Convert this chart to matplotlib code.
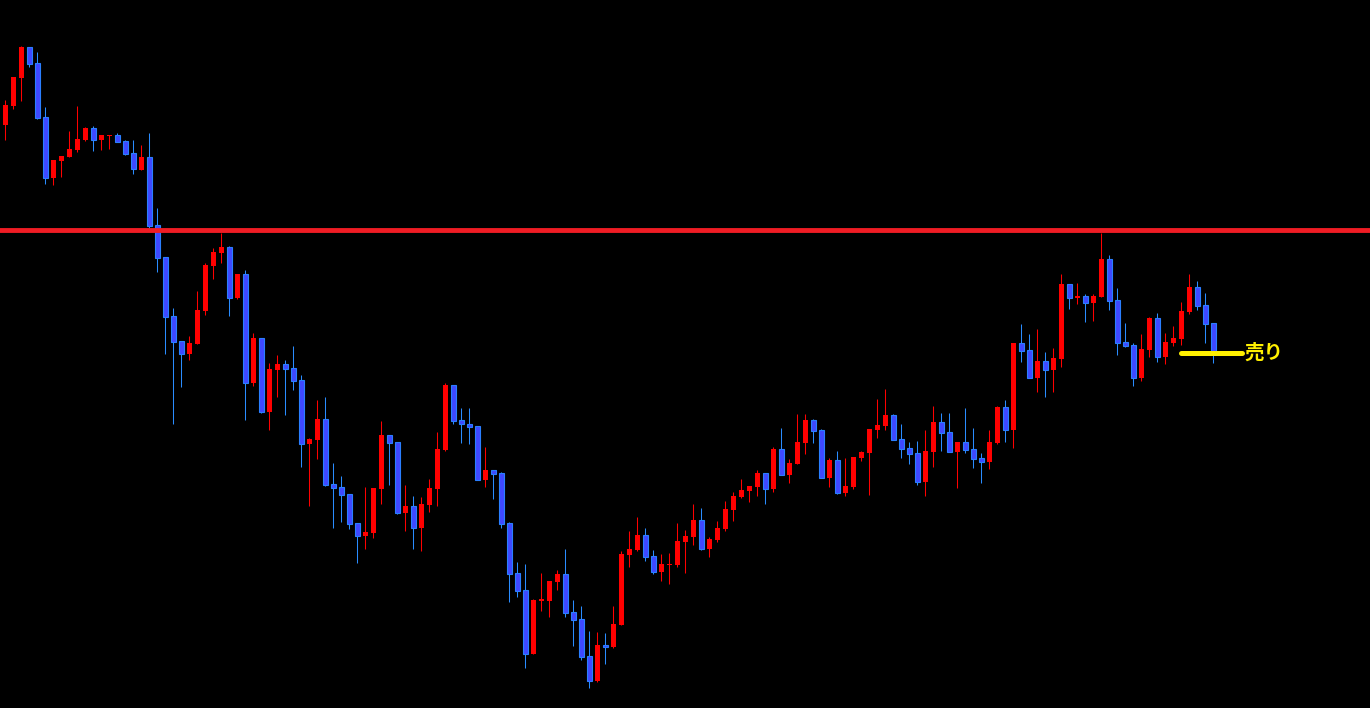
import numpy as np
import matplotlib
matplotlib.use("Agg")
import matplotlib.pyplot as plt

# OHLC (arbitrary price scale)
opens = [583, 602, 630.3, 661, 645, 591, 530.3, 547, 551, 558, 568, 580, 568, 572, 573, 567, 555, 538.3, 551, 483,
         451, 392, 367, 354.3, 364.3, 397, 442, 455, 461, 410, 434, 325, 370, 296, 338, 344, 340, 328, 264.3, 268.3,
         289, 224, 221, 214, 185, 172.3, 175, 219, 273, 266, 195, 202, 180.3, 203, 219, 258, 323, 288, 284, 282,
         228.3, 238, 235, 185, 135, 118, 54.3, 107.5, 107.3, 126.3, 134, 96, 89, 52, 27.3, 63, 61.3, 83, 153, 158,
         173, 152, 136.3, 143.3, 143.3, 166.3, 171.3, 188, 159.3, 168.3, 179.3, 198.3, 211.3, 217.3, 221.3, 235, 219.3, 259, 233.3, 244.3,
         265.3, 288, 278, 230.3, 248, 215.3, 221.3, 250.3, 255.3, 278.3, 282.3, 293, 269, 260, 255, 226.3, 256.3, 286, 276, 256.3,
         266, 259, 250, 246.3, 265.3, 301, 278.3, 365, 358, 330.3, 347, 338.3, 349.3, 424, 410.5, 412, 405.3, 411.3, 449, 408,
         366, 363, 330.3, 358.3, 390, 351.3, 365.3, 369.3, 396.3, 421, 403, 385]
highs = [608, 631, 662, 661, 656, 601, 548, 552, 577, 602.3, 581, 582, 573, 573, 575, 568, 568, 563, 575, 500,
         451, 400, 367, 372, 417, 445, 460, 475, 462, 434, 438, 375, 370, 345, 353, 348, 362, 333, 270, 308,
         311, 245, 232, 214, 185, 221, 220, 287, 273, 266, 223, 212, 211, 229, 276, 325, 323, 300, 300, 282,
         261, 238, 236, 186, 146, 144, 109, 135, 127, 138, 159, 108, 102, 77, 76, 75, 102, 157, 177, 191,
         180, 158, 154, 155, 185, 178, 204, 200, 171, 187, 207, 216, 229, 222, 238, 235, 261, 280, 249, 294.3,
         294.3, 289, 279, 250, 257, 250, 251, 257, 279, 309, 319, 294, 284, 266, 267, 278, 302, 295, 295, 266,
         300, 280, 255, 278, 302, 308, 365, 384, 374, 379, 356, 360, 434, 424, 425, 414, 414, 475, 453, 420,
         385, 365, 374, 391, 395, 375, 382, 406, 434, 427, 415, 385]
lows = [568, 599, 607, 641.3, 589, 524, 523, 531.3, 551, 556, 567, 557, 558, 559, 566, 553, 534, 538, 480, 436,
        354, 284, 321, 348, 364.3, 393, 429, 445, 392, 409, 288, 322.3, 295, 278, 311, 293, 318, 241, 202, 249,
        222, 180, 186, 179.3, 145.3, 159, 170.3, 204, 223, 194, 177, 159, 157, 196, 202, 257, 284.3, 265.3, 264.3, 228.3,
        221.3, 209.3, 180.3, 106.3, 111.3, 40.3, 54.3, 97.3, 91.3, 118.3, 91.3, 62.3, 48.3, 20.3, 26.3, 44.3, 60.3, 83, 141, 157,
        147, 134.3, 127, 124.3, 141.3, 135.3, 163, 158.3, 151.3, 166.3, 177.3, 187.3, 210.3, 206.3, 212.3, 204.3, 216.3, 233.3, 225.3, 244.3,
        254.3, 265.3, 230.3, 221.3, 214.3, 212.3, 219.3, 247.3, 213.3, 270.3, 278.3, 268.3, 250.3, 244.3, 223.3, 212.3, 241.3, 257.3, 256.3, 220.3,
        255.3, 240.3, 225.3, 239.3, 264.3, 266.3, 260.3, 346.3, 330.3, 316.3, 311.3, 316.3, 341.3, 399.3, 404.3, 386.3, 387.3, 411.3, 398.3, 353.3,
        361.3, 322.3, 327.3, 351.3, 346.3, 344.3, 362.3, 363.3, 394.3, 398.3, 365.3, 345.3]
closes = [603, 631, 661.3, 644.3, 590.3, 530.3, 548, 552, 559, 569, 580, 568, 573, 573, 566, 554, 539, 551, 482, 450,
          391.3, 366.3, 354.3, 365, 398, 443, 456, 461, 410.3, 434, 325.3, 370, 296, 339, 344, 339, 327, 264.3, 269, 289,
          223.3, 220.3, 213.3, 184.3, 172.3, 176, 220, 273, 265.3, 195, 202, 180.3, 204, 220, 259, 323, 287.3, 283.7, 281.3, 228.3,
          238, 234.3, 184.3, 134.3, 117.3, 54.3, 108, 108, 127, 134, 95.3, 88.3, 51.3, 27.3, 63, 61.3, 84, 154, 159, 173,
          151.3, 136.3, 144, 144, 167, 172, 188, 159.3, 169, 180, 199, 212, 218, 222, 235, 219.3, 259, 233.3, 245, 266,
          288, 277.3, 230.3, 248, 215.3, 222, 251, 256, 279, 283, 293, 268.3, 259.3, 254.3, 226.3, 257, 286, 275.3, 256.3, 266,
          258.3, 249.3, 246.3, 266, 301, 278.3, 365, 357.3, 330.3, 347, 338.3, 350, 424, 410.3, 411.3, 405.3, 412, 449, 407.3, 365.3,
          362.3, 330.3, 359, 390, 351.3, 366, 370, 397, 421, 402.3, 384.3, 356.3]

resistance = 478       # red horizontal line
sell_level = 355       # yellow sell marker
sell_from, sell_to = 147, 154.6
sell_label = "売り"

plt.rcParams['font.family'] = ['Noto Sans CJK JP', 'DejaVu Sans']

fig = plt.figure(figsize=(13.7, 7.08), dpi=100, facecolor='black')
ax = fig.add_axes([0, 0, 1, 1])
ax.set_facecolor('black')

o = np.array(opens)
h = np.array(highs)
l = np.array(lows)
c = np.array(closes)
x = np.arange(len(o))
up = c >= o

red = '#ff0000'
blue_fill = '#3f48ff'
blue_edge = '#2a7fff'

# wicks
ax.vlines(x[up], l[up], h[up], color=red, linewidth=0.75, zorder=2)
ax.vlines(x[~up], l[~up], h[~up], color='#2a8cff', linewidth=0.75, zorder=2)

# bodies
bottom = np.minimum(o, c)
height = np.maximum(np.abs(c - o), 1.2)
ax.bar(x[up], height[up], bottom=bottom[up], width=0.62, color=red, edgecolor=red, linewidth=0, zorder=3)
ax.bar(x[~up], height[~up], bottom=bottom[~up], width=0.62, color=blue_fill, edgecolor=blue_edge,
       linewidth=0.8, zorder=3)

ax.axhline(resistance, color='#f01c24', linewidth=3.5, zorder=4)
ax.plot([sell_from, sell_to], [sell_level, sell_level], color='#fff000', linewidth=3.6,
        solid_capstyle='round', zorder=5)
ax.text(sell_to + 0.3, sell_level, sell_label, color='#fff000', fontsize=14, fontweight='bold',
        va='center', ha='left', zorder=6)

ax.set_xlim(-0.66, 170.6)
ax.set_ylim(0, 708)
ax.axis('off')

fig.savefig('out.png', dpi=100, facecolor='black')
